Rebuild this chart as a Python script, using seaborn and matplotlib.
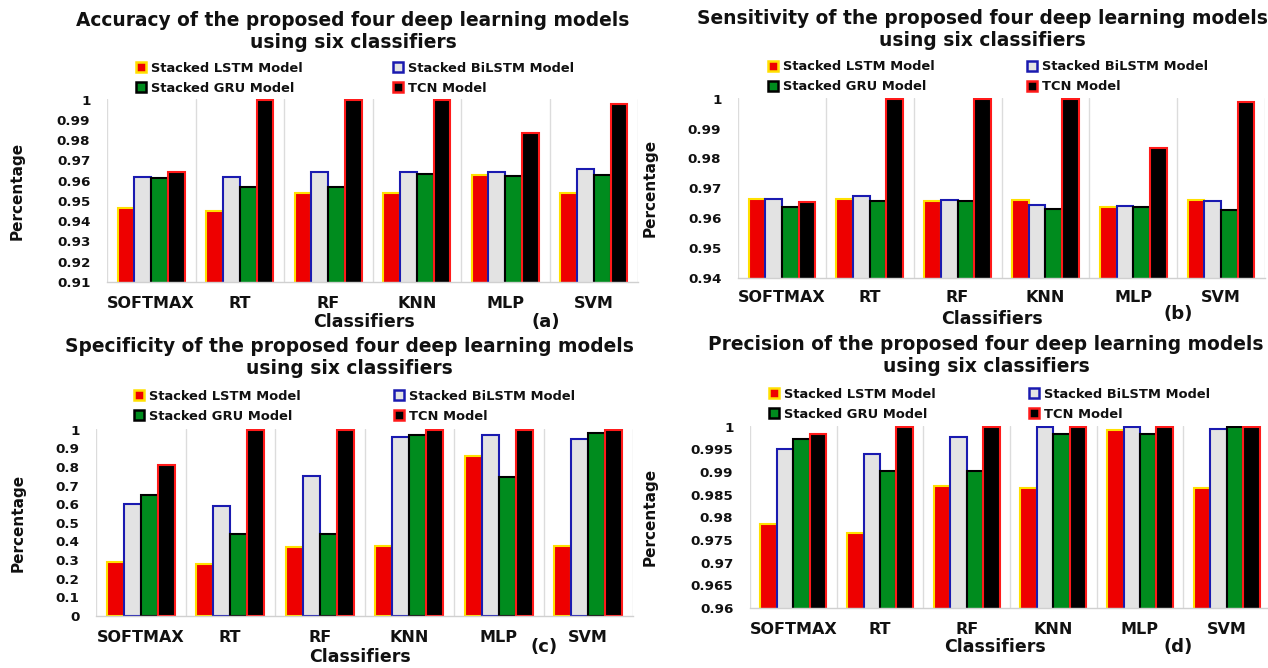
import matplotlib
matplotlib.use("Agg")
import matplotlib.pyplot as plt
from matplotlib.patches import Patch
import seaborn as sns
import pandas as pd

classifiers = ["SOFTMAX", "RT", "RF", "KNN", "MLP", "SVM"]
models = ["Stacked LSTM Model", "Stacked BiLSTM Model", "Stacked GRU Model", "TCN Model"]

accuracy_lstm = [0.9466, 0.9450, 0.9539, 0.9540, 0.9630, 0.9540]
accuracy_bilstm = [0.9620, 0.9620, 0.9642, 0.9645, 0.9642, 0.9658]
accuracy_gru = [0.9614, 0.9570, 0.9570, 0.9634, 0.9624, 0.9630]
accuracy_tcn = [0.9642, 1.0, 1.0, 1.0, 0.9836, 0.9979]

sensitivity_lstm = [0.9665, 0.9665, 0.9658, 0.9660, 0.9636, 0.9660]
sensitivity_bilstm = [0.9664, 0.9675, 0.9662, 0.9645, 0.9640, 0.9658]
sensitivity_gru = [0.9636, 0.9659, 0.9659, 0.9631, 0.9636, 0.9629]
sensitivity_tcn = [0.9653, 1.0, 1.0, 1.0, 0.9834, 0.9988]

specificity_lstm = [0.289, 0.278, 0.371, 0.378, 0.859, 0.378]
specificity_bilstm = [0.601, 0.588, 0.750, 0.963, 0.971, 0.950]
specificity_gru = [0.651, 0.440, 0.440, 0.971, 0.747, 0.984]
specificity_tcn = [0.809, 1.0, 1.0, 1.0, 1.0, 1.0]

precision_lstm = [0.9785, 0.9765, 0.9869, 0.9864, 0.9992, 0.9864]
precision_bilstm = [0.9951, 0.9940, 0.9977, 0.9999, 1.0, 0.9996]
precision_gru = [0.9974, 0.9903, 0.9903, 0.9984, 0.9984, 1.0]
precision_tcn = [0.9985, 1.0, 1.0, 1.0, 1.0, 1.0]

face_colors = {"Stacked LSTM Model": "#ee0000", "Stacked BiLSTM Model": "#e3e3e3",
               "Stacked GRU Model": "#008c1e", "TCN Model": "#000000"}
edge_colors = {"Stacked LSTM Model": "#ffe000", "Stacked BiLSTM Model": "#1a1ab0",
               "Stacked GRU Model": "#000000", "TCN Model": "#ff1a1a"}

sns.set_theme(style="white")
FONT = ["DejaVu Sans"]
plt.rcParams["font.family"] = FONT
plt.rcParams["font.weight"] = "bold"
TXT = "#111111"

W, H = 1268, 668
fig = plt.figure(figsize=(W / 100, H / 100), dpi=100)

def fx(px):
    return px / W

def fy(py):
    return 1 - py / H

panels = [
    dict(title="Accuracy of the proposed four deep learning models\nusing six classifiers",
         data=[accuracy_lstm, accuracy_bilstm, accuracy_gru, accuracy_tcn],
         ylim=(0.91, 1.0), step=0.01, box=(107, 99, 638, 282),
         title_xy=(353, 31), leg=(136, 393, 68, 88), tick_y=303,
         xl=(364, 322), tag="(a)", tag_xy=(546, 322), ylab_x=17),
    dict(title="Sensitivity of the proposed four deep learning models\nusing six classifiers",
         data=[sensitivity_lstm, sensitivity_bilstm, sensitivity_gru, sensitivity_tcn],
         ylim=(0.94, 1.0), step=0.01, box=(738, 98, 1265, 278),
         title_xy=(982, 30), leg=(768, 1027, 67, 87), tick_y=298,
         xl=(992, 319), tag="(b)", tag_xy=(1178, 314), ylab_x=650),
    dict(title="Specificity of the proposed four deep learning models\nusing six classifiers",
         data=[specificity_lstm, specificity_bilstm, specificity_gru, specificity_tcn],
         ylim=(0.0, 1.0), step=0.1, box=(96, 429, 633, 616),
         title_xy=(349, 358), leg=(134, 394, 396, 416), tick_y=637,
         xl=(360, 657), tag="(c)", tag_xy=(544, 647), ylab_x=18),
    dict(title="Precision of the proposed four deep learning models\nusing six classifiers",
         data=[precision_lstm, precision_bilstm, precision_gru, precision_tcn],
         ylim=(0.96, 1.0), step=0.005, box=(750, 426, 1270, 608),
         title_xy=(986, 356), leg=(769, 1029, 394, 414), tick_y=629,
         xl=(995, 647), tag="(d)", tag_xy=(1178, 647), ylab_x=650),
]

for p in panels:
    l, t, r, b = p["box"]
    ax = fig.add_axes([fx(l), fy(b), fx(r - l), (b - t) / H])
    rows = []
    for m, vals in zip(models, p["data"]):
        for c, v in zip(classifiers, vals):
            rows.append({"Classifier": c, "Model": m, "Value": v})
    df = pd.DataFrame(rows)
    sns.barplot(data=df, x="Classifier", y="Value", hue="Model", order=classifiers,
                hue_order=models, palette=face_colors, width=0.76, gap=0,
                ax=ax, legend=False, saturation=1)
    for m, cont in zip(models, ax.containers):
        for bar in cont:
            bar.set_edgecolor(edge_colors[m])
            bar.set_linewidth(1.5)
    lo, hi = p["ylim"]
    ax.set_ylim(lo, hi + (hi - lo) * 0.004)
    n = int(round((hi - lo) / p["step"]))
    ticks = [round(lo + i * p["step"], 4) for i in range(n + 1)]
    ax.set_yticks(ticks)
    ax.set_yticklabels([f"{v:g}" for v in ticks], fontsize=9.7, fontweight="bold", color=TXT)
    ax.set_xlim(-0.5, 5.5)
    ax.set_xticks(range(6))
    ax.set_xticklabels([])
    ax.set_xticks([i - 0.5 for i in range(7)], minor=True)
    ax.grid(False)
    ax.grid(True, which="minor", axis="x", color="#dcdcdc", linewidth=1)
    ax.tick_params(axis="y", which="both", length=0, pad=12)
    ax.tick_params(axis="x", which="both", length=0)
    for s in ["top", "right", "left"]:
        ax.spines[s].set_visible(False)
    ax.spines["bottom"].set_color("#d0d0d0")
    ax.spines["bottom"].set_linewidth(1)
    ax.set_xlabel("")
    ax.set_ylabel("")
    for i, c in enumerate(classifiers):
        xd = ax.transData.transform((i, 0))[0]
        fig.text(xd / W, fy(p["tick_y"]), c, ha="center", va="center",
                 fontsize=11.5, fontweight="bold", color=TXT)
    fig.text(fx(p["xl"][0]), fy(p["xl"][1]), "Classifiers", ha="center", va="center",
             fontsize=12.5, fontweight="bold", color=TXT)
    fig.text(fx(p["tag_xy"][0]), fy(p["tag_xy"][1]), p["tag"], ha="center", va="center",
             fontsize=13, fontweight="bold", color=TXT)
    fig.text(fx(p["ylab_x"]), (fy(b) + fy(t)) / 2, "Percentage", rotation=90,
             ha="center", va="center", fontsize=11, fontweight="bold", color=TXT)
    fig.text(fx(p["title_xy"][0]), fy(p["title_xy"][1]), p["title"], ha="center",
             va="center", fontsize=13.4, fontweight="bold", linespacing=1.2, color=TXT)
    x1, x2, y1, y2 = p["leg"]
    for (hx, hy), m in zip([(x1, y1), (x2, y1), (x1, y2), (x2, y2)], models):
        h = Patch(facecolor=face_colors[m], edgecolor=edge_colors[m], linewidth=1.8)
        fig.legend([h], [m], loc="center left",
                   bbox_to_anchor=(fx(hx), fy(hy)), frameon=False,
                   prop={"weight": "bold", "size": 9.4}, labelcolor=TXT,
                   handlelength=0.8, handleheight=0.7, handletextpad=0.35,
                   borderpad=0, borderaxespad=0)

fig.savefig("out.png", dpi=100)
